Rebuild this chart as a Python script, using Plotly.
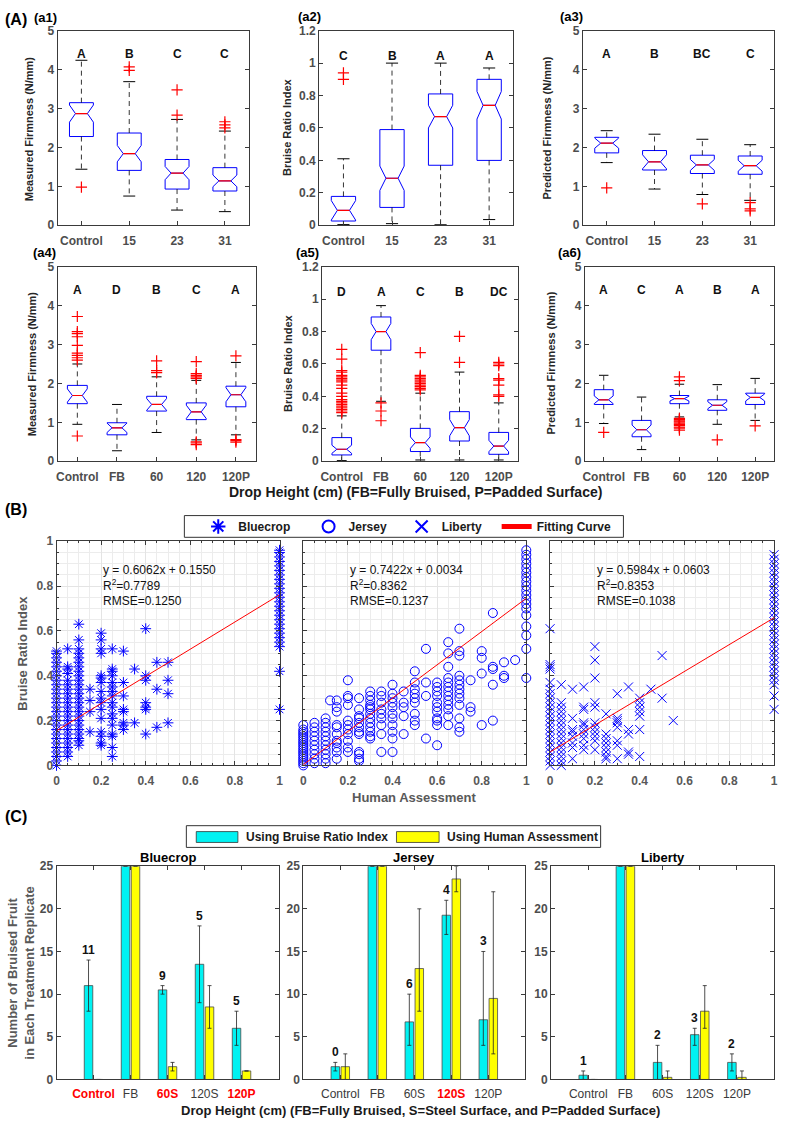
import plotly.graph_objects as go

W, H = 787, 1124
FONT = "Liberation Sans, Arial, sans-serif"
BLUE = "#0000ff"
RED = "#ff0000"
SPINE = "#3a3a3a"
TICKC = "#4d4d4d"
CYAN = "#00f2f2"
YELLOW = "#ffff00"
NB = "\u00a0"

# ---------------- (A) box plot summaries ----------------
cats_top = ["Control", "15", "23", "31"]
cats_bot = ["Control", "FB", "60", "120", "120P"]
ticks_firm = [0, 1, 2, 3, 4, 5]
ticks_bri = [0, 0.2, 0.4, 0.6, 0.8, 1, 1.2]

a1_q1 = [2.28, 1.41, 0.93, 0.88]
a1_med = [2.87, 1.84, 1.34, 1.14]
a1_q3 = [3.15, 2.37, 1.69, 1.48]
a1_wlo = [1.44, 0.75, 0.39, 0.35]
a1_whi = [4.24, 3.69, 2.72, 2.42]
a1_notch = [0.22, 0.21, 0.17, 0.15]
a1_out = [[0.98], [3.98, 4.07], [2.83, 3.48], [2.50, 2.58, 2.66]]
a1_letters = ["A", "B", "C", "C"]

a2_q1 = [0.026, 0.11, 0.37, 0.40]
a2_med = [0.092, 0.29, 0.67, 0.74]
a2_q3 = [0.178, 0.59, 0.81, 0.90]
a2_wlo = [0.004, 0.01, 0.003, 0.035]
a2_whi = [0.41, 1.0, 1.0, 0.97]
a2_notch = [0.06, 0.075, 0.07, 0.085]
a2_out = [[0.90, 0.94], [], [], []]
a2_letters = ["C", "B", "A", "A"]

a3_q1 = [1.86, 1.42, 1.33, 1.31]
a3_med = [2.11, 1.63, 1.55, 1.53]
a3_q3 = [2.26, 1.92, 1.80, 1.78]
a3_wlo = [1.61, 0.93, 0.79, 0.64]
a3_whi = [2.43, 2.34, 2.21, 2.07]
a3_notch = [0.13, 0.18, 0.14, 0.14]
a3_out = [[0.96], [], [0.55], [0.37, 0.42, 0.58]]
a3_letters = ["A", "B", "BC", "C"]

a4_q1 = [1.48, 0.68, 1.29, 1.07, 1.40]
a4_med = [1.69, 0.86, 1.46, 1.27, 1.71]
a4_q3 = [1.95, 0.99, 1.67, 1.50, 1.93]
a4_wlo = [0.95, 0.27, 0.74, 0.55, 0.68]
a4_whi = [2.50, 1.46, 2.17, 2.08, 2.54]
a4_notch = [0.17, 0.12, 0.15, 0.17, 0.18]
a4_out = [[0.65, 2.60, 2.66, 2.72, 2.78, 2.98, 3.20, 3.28, 3.33, 3.72], [],
          [2.28, 2.33, 2.58], [0.43, 0.47, 0.50, 2.13, 2.17, 2.21, 2.25, 2.56],
          [0.49, 0.53, 0.56, 2.71]]
a4_letters = ["A", "D", "B", "C", "A"]

a5_q1 = [0.039, 0.685, 0.06, 0.125, 0.043]
a5_med = [0.074, 0.80, 0.115, 0.207, 0.094]
a5_q3 = [0.146, 0.89, 0.203, 0.306, 0.178]
a5_wlo = [0.004, 0.37, 0.008, 0.008, 0.008]
a5_whi = [0.28, 0.96, 0.42, 0.55, 0.36]
a5_notch = [0.025, 0.05, 0.035, 0.05, 0.035]
a5_out = [[0.30, 0.31, 0.32, 0.33, 0.34, 0.35, 0.36, 0.37, 0.38, 0.40, 0.42, 0.45, 0.47,
           0.49, 0.50, 0.51, 0.52, 0.53, 0.55, 0.56, 0.63, 0.69],
          [0.25, 0.31, 0.36],
          [0.44, 0.45, 0.46, 0.47, 0.48, 0.49, 0.50, 0.51, 0.52, 0.53, 0.67],
          [0.61, 0.77],
          [0.40, 0.41, 0.47, 0.50, 0.51, 0.59, 0.60, 0.61]]
a5_letters = ["D", "A", "C", "B", "DC"]

a6_q1 = [1.46, 0.63, 1.48, 1.31, 1.46]
a6_med = [1.58, 0.81, 1.61, 1.44, 1.64]
a6_q3 = [1.84, 1.05, 1.69, 1.58, 1.75]
a6_wlo = [0.97, 0.30, 1.14, 0.95, 1.05]
a6_whi = [2.21, 1.65, 1.98, 1.97, 2.13]
a6_notch = [0.10, 0.12, 0.06, 0.09, 0.09]
a6_out = [[0.74], [], [0.80, 0.85, 0.88, 0.92, 0.95, 0.98, 1.01, 1.04, 1.07, 1.10, 2.07, 2.17],
          [0.55], [0.91]]
a6_letters = ["A", "C", "A", "B", "A"]

# ---------------- (B) scatter: (human assessment, [bruise ratio index values]) ----------------
ticks_unit = [0, 0.2, 0.4, 0.6, 0.8, 1]
bluecrop_cols = [
    (0.0, [0.00, 0.02, 0.04, 0.06, 0.08, 0.10, 0.12, 0.14, 0.16, 0.18, 0.20, 0.22, 0.24, 0.26,
           0.28, 0.30, 0.32, 0.34, 0.36, 0.38, 0.40, 0.42, 0.44, 0.46, 0.48, 0.50, 0.51]),
    (0.05, [0.04, 0.06, 0.08, 0.10, 0.12, 0.14, 0.16, 0.18, 0.20, 0.22, 0.24, 0.26, 0.28, 0.30,
            0.32, 0.34, 0.36, 0.38, 0.41, 0.43, 0.44, 0.52]),
    (0.1, [0.09, 0.11, 0.12, 0.14, 0.16, 0.18, 0.20, 0.22, 0.24, 0.26, 0.28, 0.30, 0.32, 0.34,
           0.36, 0.38, 0.40, 0.42, 0.44, 0.46, 0.48, 0.50, 0.52, 0.56, 0.63]),
    (0.15, [0.15, 0.24, 0.29, 0.34]),
    (0.2, [0.09, 0.10, 0.13, 0.15, 0.21, 0.25, 0.28, 0.30, 0.33, 0.37, 0.39, 0.40, 0.50, 0.52,
           0.56, 0.59]),
    (0.25, [0.04, 0.08, 0.13, 0.14, 0.18, 0.21, 0.23, 0.26, 0.28, 0.31, 0.33, 0.35, 0.37, 0.40,
            0.42, 0.43, 0.52]),
    (0.3, [0.16, 0.18, 0.19, 0.24, 0.25, 0.31, 0.37, 0.51]),
    (0.35, [0.19, 0.43]),
    (0.4, [0.14, 0.25, 0.26, 0.28, 0.38, 0.40, 0.61]),
    (0.45, [0.17, 0.34, 0.46]),
    (0.5, [0.19, 0.32, 0.38, 0.46]),
    (1.0, [0.25, 0.42, 0.53, 0.55, 0.57, 0.59, 0.61, 0.63, 0.65, 0.67, 0.69, 0.71, 0.73, 0.75,
           0.77, 0.79, 0.81, 0.83, 0.85, 0.87, 0.89, 0.91, 0.93, 0.95, 0.96]),
]
jersey_cols = [
    (0.0, [0.00, 0.01, 0.02, 0.03, 0.04, 0.05, 0.06, 0.07, 0.08, 0.09, 0.10, 0.11, 0.12, 0.13,
           0.14, 0.15, 0.16, 0.18]),
    (0.05, [0.01, 0.03, 0.05, 0.07, 0.09, 0.11, 0.13, 0.15, 0.17, 0.19]),
    (0.1, [0.01, 0.03, 0.05, 0.07, 0.09, 0.11, 0.13, 0.15, 0.17, 0.19, 0.21]),
    (0.12, [0.29]),
    (0.15, [0.03, 0.06, 0.08, 0.10, 0.11, 0.14, 0.17, 0.18, 0.24, 0.26, 0.29]),
    (0.2, [0.06, 0.08, 0.11, 0.14, 0.16, 0.18, 0.20, 0.27, 0.30, 0.31, 0.38]),
    (0.25, [0.02, 0.03, 0.05, 0.06, 0.14, 0.15, 0.17, 0.19, 0.21, 0.22, 0.25, 0.30]),
    (0.3, [0.12, 0.13, 0.15, 0.17, 0.19, 0.21, 0.23, 0.25, 0.26, 0.27, 0.29, 0.31, 0.33]),
    (0.35, [0.06, 0.14, 0.18, 0.21, 0.23, 0.25, 0.28, 0.31, 0.33]),
    (0.4, [0.06, 0.12, 0.15, 0.18, 0.21, 0.23, 0.26, 0.28, 0.30, 0.32, 0.36]),
    (0.45, [0.14, 0.22, 0.26, 0.28, 0.33]),
    (0.5, [0.18, 0.20, 0.23, 0.28, 0.30, 0.32, 0.34, 0.37, 0.42]),
    (0.55, [0.12, 0.31, 0.37, 0.52]),
    (0.6, [0.09, 0.18, 0.20, 0.21, 0.24, 0.26, 0.28, 0.31, 0.33, 0.35, 0.37]),
    (0.65, [0.18, 0.22, 0.25, 0.27, 0.29, 0.31, 0.33, 0.35, 0.37, 0.39, 0.44, 0.50, 0.55]),
    (0.7, [0.15, 0.17, 0.21, 0.27, 0.30, 0.32, 0.34, 0.36, 0.38, 0.40, 0.49, 0.51, 0.61]),
    (0.75, [0.24, 0.26, 0.38]),
    (0.8, [0.18, 0.41, 0.48, 0.51]),
    (0.85, [0.20, 0.36, 0.43, 0.44, 0.68]),
    (0.9, [0.39, 0.40, 0.46]),
    (0.95, [0.47]),
    (1.0, [0.39, 0.52, 0.58, 0.62, 0.67, 0.70, 0.72, 0.74, 0.76, 0.78, 0.80, 0.82, 0.84, 0.86,
           0.88, 0.90, 0.92, 0.94, 0.96]),
]
liberty_cols = [
    (0.0, [0.00, 0.02, 0.04, 0.06, 0.08, 0.10, 0.12, 0.14, 0.16, 0.18, 0.20, 0.22, 0.24, 0.26,
           0.28, 0.30, 0.32, 0.34, 0.37, 0.43, 0.44, 0.45, 0.61]),
    (0.05, [0.00, 0.02, 0.04, 0.06, 0.08, 0.10, 0.12, 0.14, 0.16, 0.18, 0.20, 0.22, 0.24, 0.26,
            0.28, 0.36]),
    (0.1, [0.03, 0.08, 0.10, 0.13, 0.15, 0.16, 0.21, 0.34]),
    (0.15, [0.07, 0.09, 0.12, 0.14, 0.16, 0.18, 0.19, 0.25, 0.26, 0.35]),
    (0.2, [0.07, 0.11, 0.13, 0.15, 0.17, 0.19, 0.26, 0.28, 0.39, 0.47, 0.53]),
    (0.25, [0.03, 0.04, 0.06, 0.08, 0.10, 0.12, 0.14, 0.23]),
    (0.3, [0.03, 0.09, 0.11, 0.17, 0.19, 0.20, 0.21, 0.32]),
    (0.35, [0.05, 0.06, 0.14, 0.16, 0.35]),
    (0.4, [0.04, 0.16, 0.22, 0.24, 0.26, 0.28, 0.30]),
    (0.45, [0.34]),
    (0.5, [0.30, 0.49]),
    (0.55, [0.20]),
    (1.0, [0.25, 0.31, 0.36, 0.38, 0.40, 0.42, 0.44, 0.46, 0.48, 0.50, 0.52, 0.54, 0.56, 0.58,
           0.60, 0.62, 0.64, 0.66, 0.68, 0.70, 0.72, 0.74, 0.76, 0.78, 0.80, 0.82, 0.84, 0.86,
           0.88, 0.90, 0.92, 0.94]),
]
fit_x = [0, 1]
bluecrop_fit = [0.1550, 0.7612]
jersey_fit = [0.0034, 0.7456]
liberty_fit = [0.0603, 0.6587]
bluecrop_eq = "y = 0.6062x + 0.1550<br>R<sup>2</sup>=0.7789<br>RMSE=0.1250"
jersey_eq = "y = 0.7422x + 0.0034<br>R<sup>2</sup>=0.8362<br>RMSE=0.1237"
liberty_eq = "y = 0.5984x + 0.0603<br>R<sup>2</sup>=0.8353<br>RMSE=0.1038"

# ---------------- (C) bars ----------------
bar_cats = ["Control", "FB", "60S", "120S", "120P"]
ticks_count = [0, 5, 10, 15, 20, 25]
bc_bri = [11, 25, 10.5, 13.5, 6]
bc_bri_lo = [8, 25, 10, 9, 4]
bc_bri_hi = [14, 25, 11, 18, 8]
bc_ha = [0, 25, 1.5, 8.5, 1]
bc_ha_lo = [0, 25, 1, 6, 1]
bc_ha_hi = [0, 25, 2, 11, 1]
bc_counts = ["11", "", "9", "5", "5"]
bc_red = [True, False, True, False, True]

je_bri = [1.5, 25, 6.75, 19.25, 7]
je_bri_lo = [1, 25, 4, 17, 4]
je_bri_hi = [2, 25, 10, 21, 15]
je_ha = [1.5, 25, 13, 23.5, 9.5]
je_ha_lo = [0, 25, 8, 22, 3]
je_ha_hi = [3, 25, 20, 25, 22]
je_counts = ["0", "", "6", "4", "3"]
je_red = [False, False, False, True, False]

li_bri = [0.5, 25, 2, 5.25, 2]
li_bri_lo = [0, 25, 0, 4, 1]
li_bri_hi = [1, 25, 4, 6, 3]
li_ha = [0, 25, 0.25, 8, 0.25]
li_ha_lo = [0, 25, 0, 6, 0]
li_ha_hi = [0, 25, 1, 11, 1]
li_counts = ["1", "", "2", "3", "2"]
li_red = [False, False, False, False, False]

# =====================================================================
fig = go.Figure()
LAY = {}
ANN = []
SHAPES = []


def ann(text, px, py, size=12, bold=True, color="#000000", xanchor="center",
        yanchor="middle", angle=0, align="center"):
    ANN.append(dict(text=text, x=px / W, y=1 - py / H, xref="paper", yref="paper",
                    xanchor=xanchor, yanchor=yanchor, showarrow=False, textangle=angle,
                    align=align,
                    font=dict(family=FONT, size=size, color=color,
                              weight="bold" if bold else "normal")))


def rect(x0, y0, x1, y1, fill, line="#333333", lw=1):
    SHAPES.append(dict(type="rect", xref="paper", yref="paper", x0=x0 / W, x1=x1 / W,
                       y0=1 - y1 / H, y1=1 - y0 / H, fillcolor=fill,
                       line=dict(color=line, width=lw), layer="above"))


def names(n):
    s = "" if n == 1 else str(n)
    return "x" + s, "y" + s, "xaxis" + s, "yaxis" + s


def axstyle(mirror, tickcolor=TICKC, size=12, weight="bold"):
    return dict(showline=True, linecolor=SPINE, linewidth=1, mirror=mirror,
                ticks="inside", ticklen=4, tickwidth=1, tickcolor=SPINE,
                showgrid=False, zeroline=False,
                tickfont=dict(family=FONT, size=size, color=tickcolor, weight=weight))


def box_panel(n, cats, q1, med, q3, wlo, whi, notch, outs, letters, yticks, letter_y,
              xpx, ypx):
    xr, yr, xk, yk = names(n)
    pos = list(range(1, len(cats) + 1))
    fig.add_trace(go.Box(x=pos, q1=q1, median=med, q3=q3, lowerfence=q1, upperfence=q3,
                         notched=True, notchspan=notch, notchwidth=0.25, width=0.5,
                         whiskerwidth=0, boxpoints=False,
                         line=dict(color=BLUE, width=1), fillcolor="rgba(255,255,255,0)",
                         xaxis=xr, yaxis=yr, showlegend=False, hoverinfo="skip"))
    wx, wy, cx, cy, mx, my, ox, oy = [], [], [], [], [], [], [], []
    for p, a, m, b, lo, hi, o in zip(pos, q1, med, q3, wlo, whi, outs):
        wx += [p, p, None, p, p, None]
        wy += [b, hi, None, a, lo, None]
        cx += [p - 0.125, p + 0.125, None, p - 0.125, p + 0.125, None]
        cy += [hi, hi, None, lo, lo, None]
        mx += [p - 0.125, p + 0.125, None]
        my += [m, m, None]
        ox += [p] * len(o)
        oy += o
    fig.add_trace(go.Scatter(x=wx, y=wy, mode="lines", line=dict(color="#000000", width=0.8,
                             dash="5px,4px"), xaxis=xr, yaxis=yr, showlegend=False,
                             hoverinfo="skip"))
    fig.add_trace(go.Scatter(x=cx, y=cy, mode="lines", line=dict(color="#000000", width=1),
                             xaxis=xr, yaxis=yr, showlegend=False, hoverinfo="skip"))
    fig.add_trace(go.Scatter(x=mx, y=my, mode="lines", line=dict(color=RED, width=1.2),
                             xaxis=xr, yaxis=yr, showlegend=False, hoverinfo="skip"))
    fig.add_trace(go.Scatter(x=ox, y=oy, mode="markers",
                             marker=dict(symbol="cross-thin-open", size=8,
                                         line=dict(color=RED, width=1.2), color=RED),
                             xaxis=xr, yaxis=yr, showlegend=False, hoverinfo="skip",
                             cliponaxis=False))
    LAY[xk] = dict(domain=[xpx[0] / W, xpx[1] / W], anchor=yr,
                   range=[0.5, len(cats) + 0.5], tickmode="array", tickvals=pos,
                   ticktext=cats, ticklabelstandoff=4, **axstyle(True))
    LAY[yk] = dict(domain=[1 - ypx[1] / H, 1 - ypx[0] / H], anchor=xr,
                   range=[yticks[0], yticks[-1]], tickmode="array", tickvals=yticks,
                   ticktext=[f"{t:g}" for t in yticks], **axstyle("ticks"))
    for p, L in zip(pos, letters):
        ANN.append(dict(text=L, x=p, y=letter_y, xref=xr, yref=yr, showarrow=False,
                        font=dict(family=FONT, size=12, color="#111111", weight="bold")))


ROW1 = (24, 221)
ROW2 = (263, 460)
box_panel(1, cats_top, a1_q1, a1_med, a1_q3, a1_wlo, a1_whi, a1_notch, a1_out, a1_letters,
          ticks_firm, 4.4, (55, 248), ROW1)
box_panel(2, cats_top, a2_q1, a2_med, a2_q3, a2_wlo, a2_whi, a2_notch, a2_out, a2_letters,
          ticks_bri, 1.045, (319, 515), ROW1)
box_panel(3, cats_top, a3_q1, a3_med, a3_q3, a3_wlo, a3_whi, a3_notch, a3_out, a3_letters,
          ticks_firm, 4.4, (585, 778), ROW1)
box_panel(4, cats_bot, a4_q1, a4_med, a4_q3, a4_wlo, a4_whi, a4_notch, a4_out, a4_letters,
          ticks_firm, 4.4, (55, 255), ROW2)
box_panel(5, cats_bot, a5_q1, a5_med, a5_q3, a5_wlo, a5_whi, a5_notch, a5_out, a5_letters,
          ticks_bri, 1.045, (322, 520), ROW2)
box_panel(6, cats_bot, a6_q1, a6_med, a6_q3, a6_wlo, a6_whi, a6_notch, a6_out, a6_letters,
          ticks_firm, 4.4, (587, 778), ROW2)


def scatter_panel(n, cols, name, symbol, msize, rank, fit_y, eq, xpx, show_yl, show_fit_leg):
    xr, yr, xk, yk = names(n)
    xs, ys = [], []
    for xv, yl in cols:
        xs += [xv] * len(yl)
        ys += yl
    fig.add_trace(go.Scatter(x=xs, y=ys, mode="markers", name=name,
                             marker=dict(symbol=symbol, size=msize, color=BLUE,
                                         line=dict(color=BLUE, width=1)),
                             xaxis=xr, yaxis=yr, legend="legend", legendrank=rank,
                             cliponaxis=False, hoverinfo="skip"))
    fig.add_trace(go.Scatter(x=fit_x, y=fit_y, mode="lines", name="Fitting Curve",
                             line=dict(color=RED, width=1), xaxis=xr, yaxis=yr,
                             legend="legend", legendrank=4, showlegend=show_fit_leg,
                             hoverinfo="skip"))
    grid = dict(showgrid=True, gridcolor="#e4e4e4", gridwidth=1,
                minor=dict(tickmode="linear", tick0=0, dtick=0.05, ticks="inside", ticklen=2,
                           tickcolor=SPINE, showgrid=True, gridcolor="#ececec", gridwidth=1))
    xs_ = axstyle("ticks", tickcolor="#595959")
    xs_.update(grid)
    ys_ = axstyle("ticks", tickcolor="#595959")
    ys_.update(grid)
    LAY[xk] = dict(domain=[xpx[0] / W, xpx[1] / W], anchor=yr, range=[0, 1],
                   tickmode="array", tickvals=ticks_unit,
                   ticktext=[f"{t:g}" for t in ticks_unit], ticklabelstandoff=4, **xs_)
    LAY[yk] = dict(domain=[1 - 768 / H, 1 - 541 / H], anchor=xr, range=[0, 1],
                   tickmode="array", tickvals=ticks_unit,
                   ticktext=[f"{t:g}" for t in ticks_unit], showticklabels=show_yl, **ys_)
    ANN.append(dict(text=eq, x=0.2, y=0.91, xref=xr, yref=yr, xanchor="left",
                    yanchor="top", align="left", showarrow=False,
                    font=dict(family=FONT, size=12, color="#111111")))


scatter_panel(7, bluecrop_cols, "Bluecrop" + NB * 4, "asterisk-open", 9, 1, bluecrop_fit,
              bluecrop_eq, (54, 279), True, True)
scatter_panel(8, jersey_cols, "Jersey" + NB * 3, "circle-open", 9, 2, jersey_fit, jersey_eq,
              (303, 528), False, False)
scatter_panel(9, liberty_cols, "Liberty" + NB * 3, "x-thin-open", 9, 3, liberty_fit,
              liberty_eq, (552, 778), False, False)
rect(183, 515, 626, 537, "white")


def bar_panel(n, title, bri, bri_lo, bri_hi, ha, ha_lo, ha_hi, counts, red, xpx):
    xr, yr, xk, yk = names(n)
    pos = list(range(1, len(bar_cats) + 1))
    for vals, lo, hi, col, nm in ((bri, bri_lo, bri_hi, CYAN, "Using Bruise Ratio Index"),
                                  (ha, ha_lo, ha_hi, YELLOW, "Using Human Assessment")):
        fig.add_trace(go.Bar(
            x=pos, y=vals, name=nm,
            marker=dict(color=col, line=dict(color="#4a4a4a", width=0.8)),
            error_y=dict(type="data", symmetric=False,
                         array=[h - v for h, v in zip(hi, vals)],
                         arrayminus=[v - l for v, l in zip(vals, lo)],
                         color="#222222", thickness=0.8, width=2),
            xaxis=xr, yaxis=yr, showlegend=False, hoverinfo="skip"))
    tt = [f"<span style='color:#ff0000'><b>{c}</b></span>" if r else c
          for c, r in zip(bar_cats, red)]
    LAY[xk] = dict(domain=[xpx[0] / W, xpx[1] / W], anchor=yr, range=[0, 6],
                   tickmode="array", tickvals=pos, ticktext=tt, ticklabelstandoff=3,
                   **axstyle("ticks", tickcolor="#3a3a3a", weight="normal"))
    LAY[yk] = dict(domain=[1 - 1086 / H, 1 - 870 / H], anchor=xr, range=[0, 25],
                   tickmode="array", tickvals=ticks_count,
                   ticktext=[str(t) for t in ticks_count], **axstyle("ticks"))
    for p, c, h in zip(pos, counts, bri_hi):
        if c:
            ANN.append(dict(text=c, x=p - 0.135, y=h, xref=xr, yref=yr, yanchor="bottom",
                            yshift=1, showarrow=False,
                            font=dict(family=FONT, size=12, color="#111111", weight="bold")))
    ann(title, (xpx[0] + xpx[1]) / 2, 861, size=13)


bar_panel(10, "Bluecrop", bc_bri, bc_bri_lo, bc_bri_hi, bc_ha, bc_ha_lo, bc_ha_hi, bc_counts,
          bc_red, (54, 278))
bar_panel(11, "Jersey", je_bri, je_bri_lo, je_bri_hi, je_ha, je_ha_lo, je_ha_hi, je_counts,
          je_red, (303, 527))
bar_panel(12, "Liberty", li_bri, li_bri_lo, li_bri_hi, li_ha, li_ha_lo, li_ha_hi, li_counts,
          li_red, (553, 778))

# legend for panel (C): box, swatches and labels
rect(185, 829, 603, 851, "white")
rect(195, 835, 237, 846, CYAN, line="#333333", lw=0.8)
rect(397, 835, 440, 846, YELLOW, line="#333333", lw=0.8)
ann("Using Bruise Ratio Index", 243, 840, size=12, xanchor="left", color="#1a1a1a")
ann("Using Human Assessment", 446, 840, size=12, xanchor="left", color="#1a1a1a")

# ---------------- text labels ----------------
ann("(A)", 13, 13, size=16)
ann("(a1)", 43, 11, size=13)
ann("(a2)", 309, 10, size=13)
ann("(a3)", 574, 10, size=13)
ann("(a4)", 42, 249, size=13)
ann("(a5)", 307, 249, size=13)
ann("(a6)", 572, 249, size=13)
ann("(B)", 13, 509, size=16)
ann("(C)", 13, 820, size=16)

ann("Measured Firmness (N/mm)", 27, 123, size=11, angle=-90, color="#262626")
ann("Bruise Ratio Index", 287, 122, size=11, angle=-90, color="#262626")
ann("Predicted Firmness (N/mm)", 549, 123, size=11, angle=-90, color="#262626")
ann("Measured Firmness (N/mm)", 29, 361, size=11, angle=-90, color="#262626")
ann("Bruise Ratio Index", 287, 361, size=11, angle=-90, color="#262626")
ann("Predicted Firmness (N/mm)", 552, 361, size=11, angle=-90, color="#262626")
ann("Drop Height (cm) (FB=Fully Bruised, P=Padded Surface)", 416, 491, size=14,
    color="#1a1a1a")

ann("Bruise Ratio Index", 20, 654, size=13, angle=-90, color="#595959")
ann("Human Assessment", 415, 800, size=13, color="#595959")

ann("Number of Bruised Fruit<br>in Each Treatment Replicate", 18, 978, size=13, angle=-90,
    color="#595959")
ann("Drop Height (cm) (FB=Fully Bruised, S=Steel Surface, and P=Padded Surface)", 421, 1117,
    size=13, color="#1a1a1a")

fig.update_layout(
    width=W, height=H, margin=dict(l=0, r=0, t=0, b=0),
    paper_bgcolor="white", plot_bgcolor="white",
    font=dict(family=FONT, size=12, color="#222222"),
    barmode="group", bargap=0.46, bargroupgap=0.15,
    showlegend=True,
    legend=dict(orientation="h", x=197 / W, y=1 - 526 / H, xanchor="left", yanchor="middle",
                borderwidth=0, bgcolor="rgba(0,0,0,0)",
                font=dict(family=FONT, size=12, color="#1a1a1a", weight="bold"),
                itemsizing="constant", traceorder="normal"),
    annotations=ANN,
    shapes=SHAPES,
    **LAY,
)

fig.write_html("out.html", config={"displayModeBar": False},
               post_script="document.body.style.margin='0px';")
